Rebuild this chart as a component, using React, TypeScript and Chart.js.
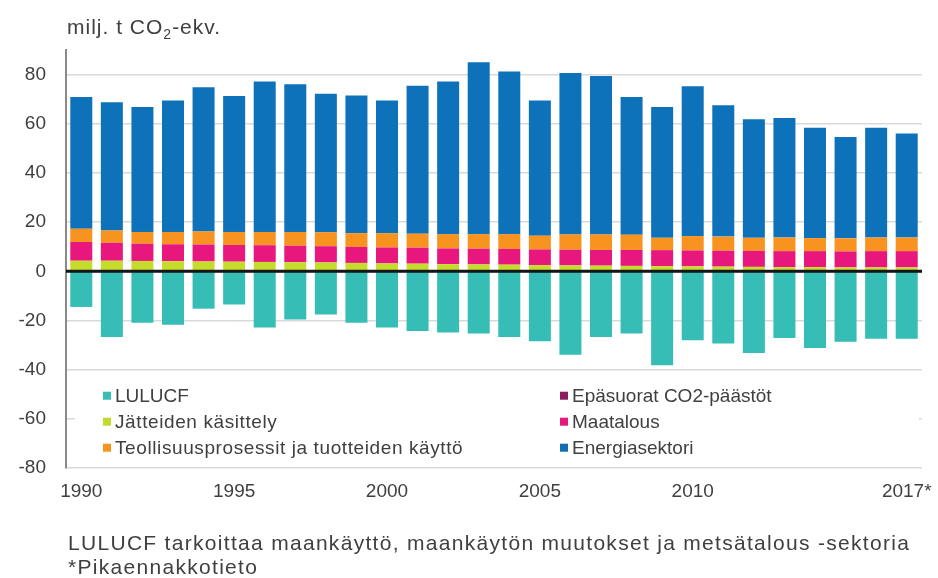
import { useEffect, useRef } from 'react';
import { Chart, registerables } from 'chart.js';

Chart.register(...registerables);

const years = ['1990', '1991', '1992', '1993', '1994', '1995', '1996', '1997', '1998', '1999', '2000', '2001', '2002', '2003', '2004', '2005', '2006', '2007', '2008', '2009', '2010', '2011', '2012', '2013', '2014', '2015', '2016', '2017*'];
const shownYearLabels = ['1990', '1995', '2000', '2005', '2010', '2017*'];

const lulucf = [-14.5, -26.7, -20.9, -21.7, -15.2, -13.5, -22.9, -19.6, -17.6, -20.9, -22.9, -24.3, -24.9, -25.3, -26.7, -28.5, -33.9, -26.7, -25.3, -38.2, -28.0, -29.4, -33.2, -27.1, -31.2, -28.7, -27.4, -27.4];
const epasuorat = [0.1, 0.1, 0.1, 0.1, 0.1, 0.1, 0.1, 0.1, 0.1, 0.1, 0.1, 0.1, 0.1, 0.1, 0.1, 0.1, 0.1, 0.1, 0.1, 0.1, 0.1, 0.1, 0.1, 0.1, 0.1, 0.1, 0.1, 0.1];
const jatteiden = [4.2, 4.2, 4.1, 4.0, 3.9, 3.8, 3.7, 3.6, 3.5, 3.3, 3.1, 3.0, 2.8, 2.7, 2.6, 2.4, 2.3, 2.2, 2.1, 2.0, 1.9, 1.8, 1.7, 1.6, 1.6, 1.5, 1.5, 1.5];
const maatalous = [7.6, 7.3, 7.0, 6.9, 6.9, 6.8, 6.8, 6.7, 6.6, 6.5, 6.5, 6.5, 6.4, 6.4, 6.4, 6.4, 6.4, 6.4, 6.5, 6.5, 6.5, 6.5, 6.5, 6.5, 6.5, 6.5, 6.6, 6.6];
const teollisuus = [5.4, 5.0, 4.8, 5.0, 5.3, 5.3, 5.4, 5.6, 5.7, 5.6, 5.8, 5.7, 5.8, 5.9, 6.0, 5.6, 6.2, 6.3, 6.2, 5.0, 5.8, 5.7, 5.3, 5.5, 5.3, 5.3, 5.5, 5.5];
const energia = [53.6, 52.2, 50.8, 53.5, 58.7, 55.3, 61.2, 60.1, 56.3, 56.0, 54.0, 60.2, 62.1, 69.9, 66.2, 55.0, 65.6, 64.4, 56.0, 53.2, 61.0, 53.4, 48.2, 48.6, 44.9, 41.2, 44.7, 42.3];

const FONT = '"Liberation Sans", Arial, sans-serif';
const TEXT = '#404040';

const legendItems = [
  { label: 'LULUCF', color: '#36bdb5', col: 0, row: 0 },
  { label: 'Epäsuorat CO2-päästöt', color: '#8b1d5e', col: 1, row: 0 },
  { label: 'Jätteiden käsittely', color: '#c5d932', col: 0, row: 1 },
  { label: 'Maatalous', color: '#e5197b', col: 1, row: 1 },
  { label: 'Teollisuusprosessit ja tuotteiden käyttö', color: '#f7941d', col: 0, row: 2 },
  { label: 'Energiasektori', color: '#0f6fb0', col: 1, row: 2 },
];

const overlayPlugin = {
  id: 'overlay',
  afterDatasetsDraw(chart: any) {
    const { ctx, chartArea, scales } = chart;
    const y0 = scales.y.getPixelForValue(0);
    ctx.save();
    ctx.strokeStyle = '#151515';
    ctx.lineWidth = 3;
    ctx.beginPath();
    ctx.moveTo(chartArea.left, y0);
    ctx.lineTo(chartArea.right, y0);
    ctx.stroke();
    // legend box
    const top = scales.y.getPixelForValue(-44.5);
    const bottom = scales.y.getPixelForValue(-77);
    ctx.fillStyle = '#ffffff';
    ctx.fillRect(chartArea.left + 9, top, chartArea.right - chartArea.left - 12, bottom - top);
    ctx.font = `19px ${FONT}`;
    ctx.textBaseline = 'middle';
    ctx.textAlign = 'left';
    const colX = [chartArea.left + 49, chartArea.left + 506];
    legendItems.forEach((it) => {
      const x = colX[it.col];
      const y = top + 15 + it.row * 26;
      ctx.fillStyle = it.color;
      ctx.fillRect(x - 12, y - 4, 8, 8);
      ctx.fillStyle = TEXT;
      (ctx as any).letterSpacing = it.col === 0 && it.row > 0 ? '0.6px' : '0px';
      ctx.fillText(it.label, x, y + 1);
    });
    ctx.restore();
  },
};

function ChartView() {
  const ref = useRef<HTMLCanvasElement>(null);
  useEffect(() => {
    if (!ref.current) return;
    const mk = (label: string, data: number[], color: string) => ({
      label,
      data,
      backgroundColor: color,
      borderWidth: 0,
      barPercentage: 0.72,
      categoryPercentage: 1,
      stack: 's',
    });
    const chart = new Chart(ref.current, {
      type: 'bar',
      data: {
        labels: years,
        datasets: [
          mk('LULUCF', lulucf, '#35bdb6'),
          mk('Epäsuorat CO2-päästöt', epasuorat, '#8b1d5e'),
          mk('Jätteiden käsittely', jatteiden, '#c6dc2d'),
          mk('Maatalous', maatalous, '#e8177d'),
          mk('Teollisuusprosessit ja tuotteiden käyttö', teollisuus, '#f8931f'),
          mk('Energiasektori', energia, '#0e72bb'),
        ],
      },
      options: {
        animation: false,
        responsive: false,
        maintainAspectRatio: false,
        layout: { padding: { top: 50, right: 16, bottom: 70, left: 0 } },
        plugins: { legend: { display: false }, tooltip: { enabled: false } },
        scales: {
          x: {
            stacked: true,
            grid: { display: false, drawTicks: false },
            border: { display: false },
            ticks: {
              autoSkip: false,
              maxRotation: 0,
              minRotation: 0,
              padding: 12,
              color: TEXT,
              font: { family: FONT, size: 19 },
              callback: function (this: any, _v: any, i: number) {
                const l = years[i];
                return shownYearLabels.includes(l) ? l : '';
              },
            },
            afterFit: (axis: any) => {
              axis.height = 40;
              axis.paddingLeft = 0;
              axis.paddingRight = 0;
            },
          },
          y: {
            stacked: true,
            min: -80,
            max: 90,
            grid: { color: '#d9d9d9', lineWidth: 1.5, drawTicks: false },
            border: { display: true, color: '#8a8a8a', width: 2 },
            ticks: {
              stepSize: 20,
              includeBounds: false,
              padding: 20,
              color: TEXT,
              font: { family: FONT, size: 19 },
            },
            afterFit: (axis: any) => {
              axis.width = 66;
            },
          },
        },
      },
      plugins: [overlayPlugin],
    });
    return () => chart.destroy();
  }, []);
  return <canvas ref={ref} width={938} height={578} style={{ display: 'block' }} />;
}

export default function App() {
  return (
    <div style={{ position: 'fixed', left: 0, top: 0, width: 938, height: 578, background: '#fff', overflow: 'hidden', fontFamily: FONT, color: TEXT }}>
      <ChartView />
      <div style={{ position: 'absolute', left: 67, top: 15, fontSize: 21, lineHeight: '24px', letterSpacing: '1px', whiteSpace: 'nowrap' }}>
        milj. t CO<sub style={{ fontSize: 14, verticalAlign: 'sub', lineHeight: 0 }}>2</sub>-ekv.
      </div>
      <div style={{ position: 'absolute', left: 68, top: 531, fontSize: 21, lineHeight: '24px', letterSpacing: '1.3px', whiteSpace: 'nowrap' }}>
        LULUCF tarkoittaa maankäyttö, maankäytön muutokset ja metsätalous -sektoria
        <br />
        *Pikaennakkotieto
      </div>
    </div>
  );
}
